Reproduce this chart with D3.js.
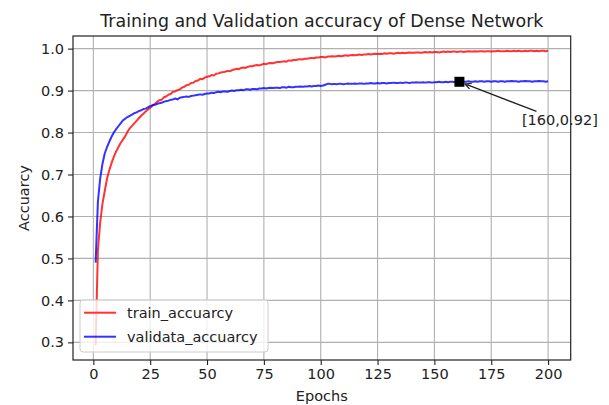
<!DOCTYPE html>
<html>
<head>
<meta charset="utf-8">
<script src="https://cdn.jsdelivr.net/npm/d3@7"></script>
<style>
  body { margin: 0; background: #fff; }
  svg text { font-family: "DejaVu Sans", sans-serif; fill: #222; }
</style>
</head>
<body>
<svg id="chart"></svg>
<script>
// training accuracy per epoch (epochs 1..200)
const trainAcc = [
  0.293, 0.520, 0.585, 0.630, 0.660, 0.690, 0.710, 0.727, 0.742, 0.755,
  0.765, 0.775, 0.783, 0.791, 0.802, 0.810, 0.816, 0.822, 0.828, 0.834,
  0.840, 0.845, 0.850, 0.855, 0.859, 0.864, 0.868, 0.873, 0.877, 0.878,
  0.884, 0.886, 0.890, 0.892, 0.897, 0.898, 0.901, 0.903, 0.907, 0.909,
  0.913, 0.914, 0.918, 0.919, 0.923, 0.924, 0.928, 0.927, 0.931, 0.933,
  0.934, 0.937, 0.936, 0.940, 0.941, 0.943, 0.944, 0.945, 0.947, 0.946,
  0.949, 0.950, 0.952, 0.951, 0.954, 0.955, 0.954, 0.957, 0.958, 0.958,
  0.960, 0.961, 0.960, 0.962, 0.964, 0.963, 0.965, 0.966, 0.965, 0.967,
  0.968, 0.968, 0.969, 0.970, 0.969, 0.972, 0.971, 0.973, 0.973, 0.974,
  0.975, 0.974, 0.976, 0.976, 0.977, 0.978, 0.977, 0.979, 0.979, 0.980,
  0.980, 0.979, 0.981, 0.981, 0.982, 0.981, 0.982, 0.983, 0.982, 0.983,
  0.984, 0.983, 0.984, 0.985, 0.984, 0.985, 0.986, 0.985, 0.986, 0.986,
  0.987, 0.986, 0.987, 0.988, 0.987, 0.988, 0.987, 0.989, 0.988, 0.989,
  0.989, 0.988, 0.989, 0.990, 0.989, 0.990, 0.989, 0.990, 0.991, 0.990,
  0.990, 0.991, 0.991, 0.990, 0.991, 0.992, 0.991, 0.992, 0.991, 0.992,
  0.992, 0.991, 0.992, 0.993, 0.992, 0.993, 0.992, 0.993, 0.993, 0.992,
  0.993, 0.993, 0.992, 0.993, 0.994, 0.993, 0.993, 0.994, 0.993, 0.994,
  0.994, 0.993, 0.994, 0.994, 0.993, 0.994, 0.994, 0.995, 0.994, 0.994,
  0.994, 0.995, 0.994, 0.994, 0.995, 0.994, 0.995, 0.994, 0.994, 0.995,
  0.994, 0.995, 0.995, 0.994, 0.995, 0.994, 0.995, 0.995, 0.994, 0.995
];

// validation accuracy per epoch
const validAcc = [
  0.490, 0.635, 0.690, 0.725, 0.750, 0.765, 0.778, 0.790, 0.800, 0.808,
  0.815, 0.822, 0.829, 0.833, 0.837, 0.840, 0.843, 0.846, 0.848, 0.851,
  0.853, 0.856, 0.857, 0.860, 0.863, 0.865, 0.866, 0.868, 0.870, 0.871,
  0.873, 0.875, 0.876, 0.878, 0.879, 0.881, 0.879, 0.883, 0.884, 0.885,
  0.886, 0.885, 0.887, 0.888, 0.889, 0.890, 0.891, 0.890, 0.892, 0.893,
  0.893, 0.895, 0.894, 0.896, 0.897, 0.896, 0.898, 0.898, 0.897, 0.899,
  0.900, 0.899, 0.901, 0.901, 0.902, 0.901, 0.903, 0.903, 0.902, 0.904,
  0.904, 0.903, 0.905, 0.905, 0.906, 0.905, 0.906, 0.907, 0.906, 0.907,
  0.907, 0.906, 0.908, 0.908, 0.907, 0.909, 0.908, 0.908, 0.909, 0.909,
  0.910, 0.909, 0.910, 0.910, 0.911, 0.910, 0.911, 0.911, 0.912, 0.911,
  0.912, 0.914, 0.916, 0.916, 0.915, 0.916, 0.915, 0.916, 0.916, 0.915,
  0.916, 0.917, 0.916, 0.916, 0.917, 0.916, 0.917, 0.917, 0.916, 0.917,
  0.917, 0.918, 0.917, 0.917, 0.918, 0.917, 0.918, 0.918, 0.917, 0.918,
  0.918, 0.919, 0.918, 0.918, 0.919, 0.918, 0.919, 0.919, 0.918, 0.919,
  0.919, 0.920, 0.919, 0.919, 0.920, 0.919, 0.920, 0.920, 0.919, 0.920,
  0.920, 0.921, 0.920, 0.920, 0.921, 0.920, 0.921, 0.921, 0.920, 0.921,
  0.921, 0.920, 0.921, 0.921, 0.922, 0.921, 0.921, 0.922, 0.921, 0.922,
  0.922, 0.921, 0.922, 0.922, 0.921, 0.922, 0.922, 0.921, 0.922, 0.922,
  0.921, 0.922, 0.922, 0.923, 0.922, 0.922, 0.921, 0.922, 0.922, 0.923,
  0.922, 0.922, 0.921, 0.922, 0.922, 0.923, 0.922, 0.922, 0.921, 0.922
];

const epochs = d3.range(1, trainAcc.length + 1);
const xTicks = [0, 25, 50, 75, 100, 125, 150, 175, 200];
const yTicks = [0.3, 0.4, 0.5, 0.6, 0.7, 0.8, 0.9, 1.0];
const seriesNames = ["train_accuarcy", "validata_accuarcy"];
const seriesColors = ["red", "blue"];
const markPoint = [161, 0.921];     // where the square sits
const markLabel = "[160,0.92]";
const markText = [188.5, 0.817];    // label position (data coords)

document.addEventListener("DOMContentLoaded", function() {
  const W = 609, H = 405;
  const margin = {top: 36, right: 38.3, bottom: 45, left: 73};
  const width = W - margin.left - margin.right;
  const height = H - margin.top - margin.bottom;

  const svg = d3.select("#chart").attr("width", W).attr("height", H);
  const g = svg.append("g").attr("transform", `translate(${margin.left},${margin.top})`);

  // matplotlib style 5% padding
  const xr = [1, 200], xpad = (xr[1] - xr[0]) * 0.05;
  const allY = trainAcc.concat(validAcc);
  const yr = d3.extent(allY), ypad = (yr[1] - yr[0]) * 0.05;

  const x = d3.scaleLinear().domain([xr[0] - xpad, xr[1] + xpad]).range([0, width]);
  const y = d3.scaleLinear().domain([yr[0] - ypad, yr[1] + ypad]).range([height, 0]);

  // grid
  g.append("g").selectAll("line").data(xTicks).enter().append("line")
    .attr("x1", d => x(d)).attr("x2", d => x(d)).attr("y1", 0).attr("y2", height)
    .attr("stroke", "#b0b0b0").attr("stroke-width", 1.1);
  g.append("g").selectAll("line").data(yTicks).enter().append("line")
    .attr("y1", d => y(d)).attr("y2", d => y(d)).attr("x1", 0).attr("x2", width)
    .attr("stroke", "#b0b0b0").attr("stroke-width", 1.1);

  // annotation text sits under the frame
  const tx = x(markText[0]), ty = y(markText[1]);
  const label = g.append("text").attr("x", tx).attr("y", ty)
    .attr("font-size", "14.5px").text(markLabel);

  // lines
  const series = [trainAcc, validAcc];
  const line = d3.line().x((d, i) => x(epochs[i])).y(d => y(d));
  series.forEach((s, k) => {
    g.append("path").datum(s).attr("d", line)
      .attr("fill", "none").attr("stroke", seriesColors[k])
      .attr("stroke-opacity", 0.8).attr("stroke-width", 2)
      .attr("stroke-linejoin", "round");
  });

  // marker
  const mx = x(markPoint[0]), my = y(markPoint[1]);
  g.append("rect").attr("x", mx - 5).attr("y", my - 5).attr("width", 10).attr("height", 10)
    .attr("fill", "black");

  // arrow from label box to marker
  const bb = label.node().getBBox();
  const cx = bb.x + bb.width / 2, cy = bb.y + bb.height / 2;
  const dx = mx - cx, dy = my - cy;
  const tEdge = Math.min(Math.abs((bb.height / 2 + 1) / dy), Math.abs((bb.width / 2 + 1) / dx));
  const sx = cx + dx * tEdge, sy = cy + dy * tEdge;
  const len = Math.hypot(mx - sx, my - sy);
  const ux = (mx - sx) / len, uy = (my - sy) / len;
  const ex = mx - ux * 6, ey = my - uy * 6;
  const hl = 6, hw = 3;
  const arrow = d3.path();
  arrow.moveTo(sx, sy); arrow.lineTo(ex, ey);
  arrow.moveTo(ex - ux * hl - uy * hw, ey - uy * hl + ux * hw);
  arrow.lineTo(ex, ey);
  arrow.lineTo(ex - ux * hl + uy * hw, ey - uy * hl - ux * hw);
  g.append("path").attr("d", arrow.toString()).attr("fill", "none")
    .attr("stroke", "#222").attr("stroke-width", 1.3);

  // axes
  const xAxis = d3.axisBottom(x).tickValues(xTicks).tickSize(5).tickPadding(4);
  const yAxis = d3.axisLeft(y).tickValues(yTicks).tickSize(5).tickPadding(4).tickFormat(d3.format(".1f"));
  const gx = g.append("g").attr("transform", `translate(0,${height})`).call(xAxis);
  const gy = g.append("g").call(yAxis);
  [gx, gy].forEach(a => {
    a.select(".domain").remove();
    a.selectAll(".tick line").attr("stroke", "#222").attr("stroke-width", 1.1);
    a.selectAll(".tick text").attr("font-size", "14.5px").attr("font-family", "DejaVu Sans").attr("fill", "#222");
  });

  // frame
  g.append("rect").attr("width", width).attr("height", height)
    .attr("fill", "none").attr("stroke", "#222").attr("stroke-width", 1.2);

  // legend
  const lg = g.append("g").attr("transform", `translate(${80 - margin.left},${300 - margin.top})`);
  lg.append("rect").attr("width", 188).attr("height", 52).attr("rx", 3)
    .attr("fill", "white").attr("fill-opacity", 0.8).attr("stroke", "#cccccc");
  seriesNames.forEach((n, k) => {
    const ly = 12.7 + k * 24;
    lg.append("line").attr("x1", 4).attr("x2", 36).attr("y1", ly).attr("y2", ly)
      .attr("stroke", seriesColors[k]).attr("stroke-opacity", 0.8).attr("stroke-width", 2);
    lg.append("text").attr("x", 47).attr("y", ly + 5).attr("font-size", "14.5px").text(n);
  });

  // titles
  svg.append("text").attr("x", margin.left + width / 2).attr("y", 26.5)
    .attr("text-anchor", "middle").attr("font-size", "17.4px")
    .text("Training and Validation accuracy of Dense Network");
  svg.append("text").attr("x", margin.left + width / 2).attr("y", 400.5)
    .attr("text-anchor", "middle").attr("font-size", "14.5px").text("Epochs");
  svg.append("text").attr("transform", `translate(28.5,${margin.top + height / 2}) rotate(-90)`)
    .attr("text-anchor", "middle").attr("font-size", "14.5px").text("Accuarcy");
});
</script>
</body>
</html>
